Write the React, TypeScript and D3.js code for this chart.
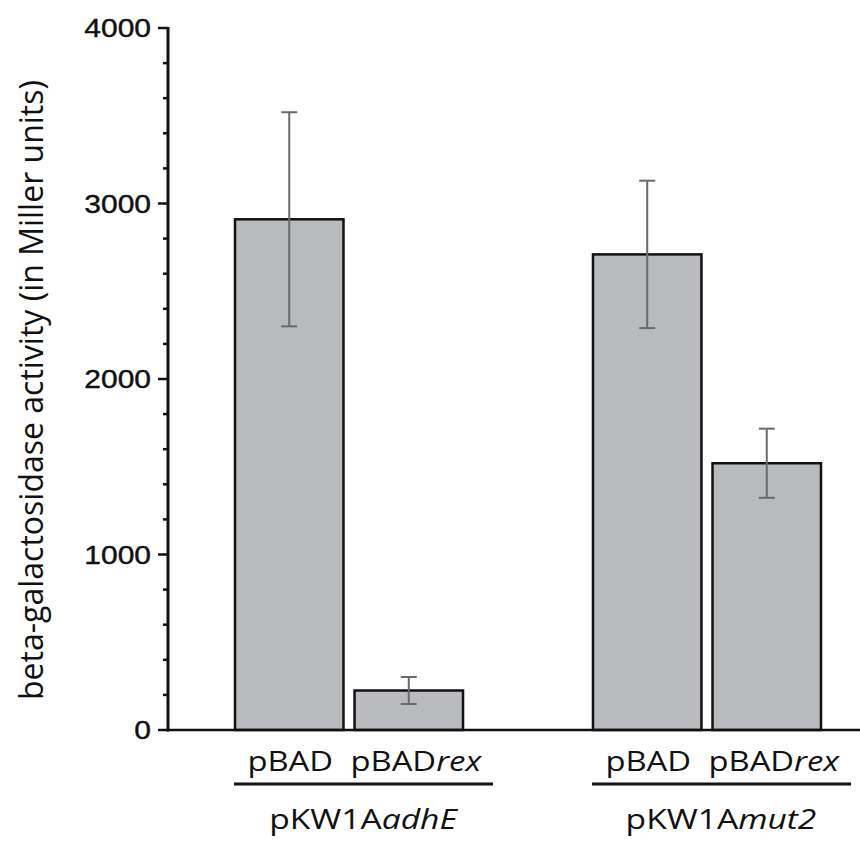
import React from "react";
import * as d3 from "d3";

const groupPrefix = ["pKW1A", "pKW1A"];
const groupItalic = ["adhE", "mut2"];
const conditionPrefix = ["pBAD", "pBAD"];
const conditionItalic = ["", "rex"];
const values = [
  [2910, 225],
  [2710, 1520],
];
const errors = [
  [610, 77],
  [420, 197],
];
const majorTicks = [0, 1000, 2000, 3000, 4000];
const yTitle = "beta-galactosidase activity (in Miller units)";

const W = 860;
const H = 843;

export default function App() {
  const y = d3.scaleLinear().domain([0, 4000]).range([730, 28]);
  const groupIds = groupItalic.map((_, i) => String(i));
  const xG = d3.scaleBand<string>().domain(groupIds).range([235, 821]).paddingInner(0.363).paddingOuter(0);
  const condIds = conditionPrefix.map((_, i) => String(i));
  const xC = d3.scaleBand<string>().domain(condIds).range([0, xG.bandwidth()]).paddingInner(0.0925).paddingOuter(0);
  const minorTicks = d3.range(0, 4001, 200).filter((v) => v % 1000 !== 0);
  const axisX = 168;
  const gray = "#b9babe";
  const labelFont = "'Open Sans', sans-serif";

  return (
    <svg width={W} height={H} style={{ position: "absolute", left: 0, top: 0, background: "#fff" }}>
      {/* bars */}
      {groupIds.map((g, gi) =>
        condIds.map((c, ci) => {
          const x0 = (xG(g) ?? 0) + (xC(c) ?? 0);
          const bw = xC.bandwidth();
          const v = values[gi][ci];
          const e = errors[gi][ci];
          const cx = x0 + bw / 2;
          return (
            <g key={g + c}>
              <rect x={x0} y={y(v)} width={bw} height={y(0) - y(v)} fill={gray} stroke="#111" strokeWidth={2.5} />
              <line x1={cx} x2={cx} y1={y(v + e)} y2={y(v - e)} stroke="#6a6a6a" strokeWidth={2} />
              <line x1={cx - 8} x2={cx + 8} y1={y(v + e)} y2={y(v + e)} stroke="#6a6a6a" strokeWidth={2} />
              <line x1={cx - 8} x2={cx + 8} y1={y(v - e)} y2={y(v - e)} stroke="#6a6a6a" strokeWidth={2} />
              <text
                transform={`translate(${cx + (ci === 1 ? 7 : 1)}, 771) scale(1.17, 1)`}
                textAnchor="middle"
                fontFamily={labelFont}
                fontSize={28}
                fontWeight={500}
                fill="#111"
              >
                {conditionPrefix[ci]}
                {conditionItalic[ci] && <tspan fontStyle="italic">{conditionItalic[ci]}</tspan>}
              </text>
            </g>
          );
        })
      )}
      {/* group underlines and labels */}
      {groupIds.map((g, gi) => {
        const x0 = xG(g) ?? 0;
        const x1 = x0 + xG.bandwidth();
        return (
          <g key={"grp" + g}>
            <line x1={x0 - 1} x2={x1 + 30} y1={784} y2={784} stroke="#111" strokeWidth={3} />
            <text
              transform={`translate(${(x0 + x1) / 2 + 14}, 829) scale(1.2, 1)`}
              textAnchor="middle"
              fontFamily={labelFont}
              fontSize={28}
              fontWeight={500}
              fill="#111"
            >
              {groupPrefix[gi]}
              <tspan fontStyle="italic">{groupItalic[gi]}</tspan>
            </text>
          </g>
        );
      })}
      {/* axes */}
      <line x1={axisX} x2={axisX} y1={y(4000) - 1} y2={y(0) + 1.5} stroke="#111" strokeWidth={3} />
      <line x1={axisX - 1.5} x2={W} y1={y(0)} y2={y(0)} stroke="#111" strokeWidth={2.5} />
      {majorTicks.map((t) => (
        <g key={"mt" + t}>
          <line x1={axisX - 10} x2={axisX} y1={y(t)} y2={y(t)} stroke="#111" strokeWidth={2.5} />
          <text
            transform={`translate(151, ${y(t)}) scale(1.2, 1)`}
            dy="0.36em"
            textAnchor="end"
            fontFamily="'Liberation Sans', Arial, sans-serif"
            fontSize={25}
            fill="#111"
            stroke="#111"
            strokeWidth={0.4}
          >
            {t}
          </text>
        </g>
      ))}
      {minorTicks.map((t) => (
        <line key={"mn" + t} x1={axisX - 5} x2={axisX} y1={y(t)} y2={y(t)} stroke="#111" strokeWidth={2.5} />
      ))}
      <text
        transform={`translate(43, 390) rotate(-90)`}
        textAnchor="middle"
        fontFamily={labelFont}
        fontSize={32}
        fill="#111"
      >
        {yTitle}
      </text>
    </svg>
  );
}
